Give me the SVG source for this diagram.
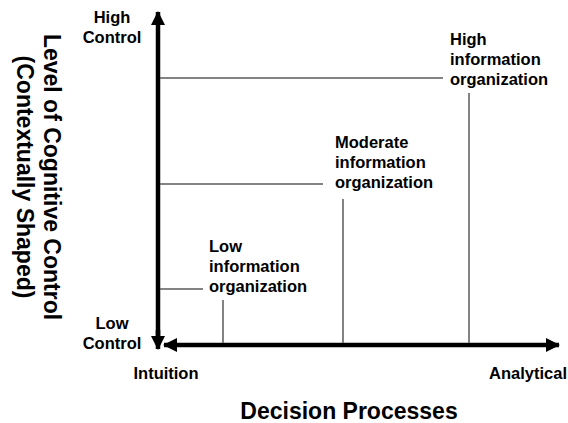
<svg xmlns="http://www.w3.org/2000/svg" width="568" height="423" viewBox="0 0 568 423">
  <style>
    text { font-family: "Liberation Sans", Arial, sans-serif; font-weight: bold; fill: #000; }
    .lbl { font-size: 16.5px; }
    .title { font-size: 23px; }
    .axis { stroke: #000; stroke-width: 4.5; fill: none; }
    .lead { stroke: #5a5a5a; stroke-width: 1.5; fill: none; }
  </style>
  <defs>
    <marker id="head" viewBox="0 0 14 14" refX="13" refY="7" markerWidth="14" markerHeight="14" markerUnits="userSpaceOnUse" orient="auto-start-reverse">
      <path d="M0,0 L14,7 L0,14 Z" fill="#000"/>
    </marker>
  </defs>
  <rect width="568" height="423" fill="#fff"/>

  <!-- axes -->
  <g id="axes">
    <line class="axis" x1="158" y1="345" x2="158" y2="12" marker-end="url(#head)"/>
    <line class="axis" x1="158" y1="330" x2="158" y2="349" marker-end="url(#head)"/>
    <line class="axis" x1="164" y1="345" x2="559" y2="345" marker-start="url(#head)" marker-end="url(#head)"/>
  </g>

  <!-- leader lines from each level to its axes -->
  <g id="connectors">
    <line class="lead" x1="160" y1="78" x2="443" y2="78"/>
    <line class="lead" x1="469" y1="93" x2="469" y2="343"/>
    <line class="lead" x1="160" y1="184" x2="323" y2="184"/>
    <line class="lead" x1="343" y1="199" x2="343" y2="343"/>
    <line class="lead" x1="160" y1="289" x2="203" y2="289"/>
    <line class="lead" x1="223" y1="300" x2="223" y2="343"/>
  </g>

  <g id="axis-labels">
    <text class="lbl" x="112" y="23" text-anchor="middle">High</text>
    <text class="lbl" x="112" y="43" text-anchor="middle">Control</text>
    <text class="lbl" x="112" y="329" text-anchor="middle">Low</text>
    <text class="lbl" x="112" y="349" text-anchor="middle">Control</text>
    <text class="lbl" x="166" y="379" text-anchor="middle">Intuition</text>
    <text class="lbl" x="567" y="379" text-anchor="end">Analytical</text>
    <text class="title" x="349" y="419" text-anchor="middle">Decision Processes</text>
    <g transform="translate(43.5,177) rotate(90)">
      <text class="title" x="0" y="0" text-anchor="middle">Level of Cognitive Control</text>
      <text class="title" x="0" y="27" text-anchor="middle">(Contextually Shaped)</text>
    </g>
  </g>

  <g id="node-high">
    <text class="lbl" x="450" y="45">High</text>
    <text class="lbl" x="450" y="65">information</text>
    <text class="lbl" x="450" y="85">organization</text>
  </g>
  <g id="node-moderate">
    <text class="lbl" x="335" y="148">Moderate</text>
    <text class="lbl" x="335" y="168">information</text>
    <text class="lbl" x="335" y="188">organization</text>
  </g>
  <g id="node-low">
    <text class="lbl" x="209" y="252">Low</text>
    <text class="lbl" x="209" y="272">information</text>
    <text class="lbl" x="209" y="292">organization</text>
  </g>
</svg>
